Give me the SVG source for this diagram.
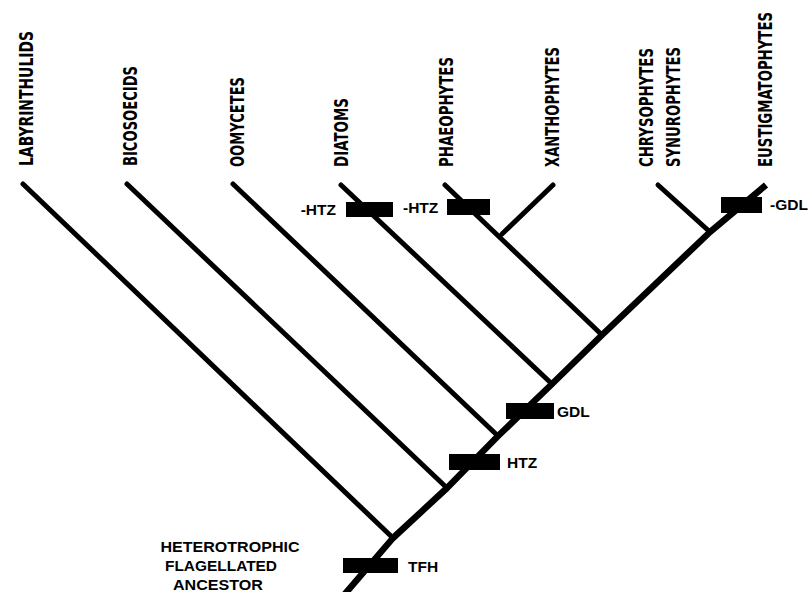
<svg xmlns="http://www.w3.org/2000/svg" width="810" height="592" viewBox="0 0 810 592">
  <style>
    .taxon { font-family: "DejaVu Sans Condensed", "DejaVu Sans", sans-serif; font-weight: bold; font-size: 19px; fill: #000; }
    .mark { font-family: "Liberation Sans", Arial, sans-serif; font-weight: bold; font-size: 15.5px; fill: #000; }
    .branch { fill: none; stroke: #000; stroke-width: 5; stroke-linecap: round; stroke-linejoin: round; }
    .trunk { fill: none; stroke: #000; stroke-width: 6.5; stroke-linecap: butt; stroke-linejoin: round; }
    .bar { fill: #000; }
  </style>
  <rect width="810" height="592" fill="#fff"/>

  <!-- tree lines -->
  <g id="connectors">
    <polyline class="trunk" points="344,595 393,538 447,488 498,436 552,384 602,335 710,232 766,185"/>
    <line class="branch" x1="23" y1="184" x2="393" y2="538"/>
    <line class="branch" x1="127" y1="184" x2="447" y2="488"/>
    <line class="branch" x1="233" y1="184" x2="498" y2="436"/>
    <line class="branch" x1="341" y1="185" x2="552" y2="384"/>
    <line class="branch" x1="445" y1="185" x2="602" y2="335"/>
    <line class="branch" x1="553" y1="185" x2="502" y2="234"/>
    <line class="branch" x1="658" y1="185" x2="710" y2="232"/>
  </g>

  <!-- terminal taxa -->
  <g id="labyrinthulids"><text class="taxon" transform="translate(33,166) rotate(-90)" textLength="135" lengthAdjust="spacingAndGlyphs">LABYRINTHULIDS</text></g>
  <g id="bicosoecids"><text class="taxon" transform="translate(137,166) rotate(-90)" textLength="100" lengthAdjust="spacingAndGlyphs">BICOSOECIDS</text></g>
  <g id="oomycetes"><text class="taxon" transform="translate(243.5,167) rotate(-90)" textLength="90" lengthAdjust="spacingAndGlyphs">OOMYCETES</text></g>
  <g id="diatoms"><text class="taxon" transform="translate(348,167) rotate(-90)" textLength="69" lengthAdjust="spacingAndGlyphs">DIATOMS</text></g>
  <g id="phaeophytes"><text class="taxon" transform="translate(453,167) rotate(-90)" textLength="110" lengthAdjust="spacingAndGlyphs">PHAEOPHYTES</text></g>
  <g id="xanthophytes"><text class="taxon" transform="translate(559,167) rotate(-90)" textLength="120" lengthAdjust="spacingAndGlyphs">XANTHOPHYTES</text></g>
  <g id="chrysophytes-synurophytes">
    <text class="taxon" transform="translate(653,167) rotate(-90)" textLength="119" lengthAdjust="spacingAndGlyphs">CHRYSOPHYTES</text>
    <text class="taxon" transform="translate(680,167) rotate(-90)" textLength="120" lengthAdjust="spacingAndGlyphs">SYNUROPHYTES</text>
  </g>
  <g id="eustigmatophytes"><text class="taxon" transform="translate(772,167) rotate(-90)" textLength="155" lengthAdjust="spacingAndGlyphs">EUSTIGMATOPHYTES</text></g>

  <!-- ancestor -->
  <g id="ancestor">
    <text class="mark" text-anchor="middle" x="230" y="552" textLength="139" lengthAdjust="spacingAndGlyphs">HETEROTROPHIC</text>
    <text class="mark" text-anchor="middle" x="221" y="571" textLength="112" lengthAdjust="spacingAndGlyphs">FLAGELLATED</text>
    <text class="mark" text-anchor="middle" x="218" y="590" textLength="90" lengthAdjust="spacingAndGlyphs">ANCESTOR</text>
  </g>

  <!-- character state changes -->
  <g id="tfh"><rect class="bar" x="343" y="558" width="55" height="15"/><text class="mark" x="408" y="572">TFH</text></g>
  <g id="htz"><rect class="bar" x="449" y="454" width="51" height="16"/><text class="mark" x="507" y="468">HTZ</text></g>
  <g id="gdl"><rect class="bar" x="506" y="403" width="48" height="16"/><text class="mark" x="557" y="417">GDL</text></g>
  <g id="diatoms-loss-htz"><rect class="bar" x="346" y="202" width="47" height="15"/><text class="mark" x="336" y="215" text-anchor="end">-HTZ</text></g>
  <g id="phaeophytes-loss-htz"><rect class="bar" x="447" y="199" width="43" height="16"/><text class="mark" x="403" y="213">-HTZ</text></g>
  <g id="eustigmatophytes-loss-gdl"><rect class="bar" x="721" y="197" width="41" height="16"/><text class="mark" x="770" y="210">-GDL</text></g>
</svg>
